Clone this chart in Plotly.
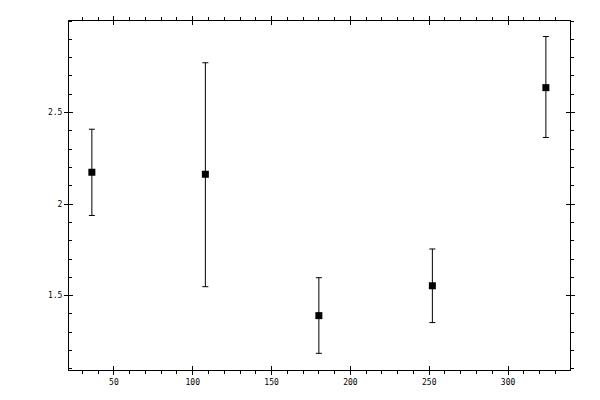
import plotly.graph_objects as go

# data
x_vals = [36, 108, 180, 252, 324]
y_vals = [2.174, 2.163, 1.391, 1.554, 2.636]
err_plus = [0.235, 0.609, 0.207, 0.201, 0.279]
err_minus = [0.236, 0.614, 0.206, 0.201, 0.272]

x_range = [21.5, 339.3]
y_range = [1.094, 3.0]

font = dict(family="DejaVu Sans Mono", size=8, color="black")

fig = go.Figure()
fig.add_trace(go.Scatter(
    x=x_vals, y=y_vals, mode="markers",
    marker=dict(symbol="square", size=7, color="black"),
    error_y=dict(type="data", symmetric=False, array=err_plus, arrayminus=err_minus,
                 color="black", thickness=1, width=3),
    showlegend=False, hoverinfo="skip",
))
# empty traces so the extra tick axes get drawn
fig.add_trace(go.Scatter(x=[], y=[], xaxis="x2", yaxis="y2", showlegend=False))
fig.add_trace(go.Scatter(x=[], y=[], xaxis="x", yaxis="y3", showlegend=False))

# page body adds 8px, margins compensate for it
fig.update_layout(
    width=600, height=400,
    margin=dict(l=61, r=38, t=8, b=38),
    paper_bgcolor="white", plot_bgcolor="white",
    font=font,
    xaxis=dict(range=x_range, showgrid=False, zeroline=False,
               showline=True, linecolor="black", linewidth=1, mirror="ticks",
               ticks="outside", ticklen=4, tickwidth=1, tickcolor="black",
               tickvals=[50, 100, 150, 200, 250, 300], tickfont=font,
               minor=dict(ticks="outside", ticklen=3, tickwidth=1, tickcolor="black",
                          dtick=10, tick0=0, showgrid=False)),
    xaxis2=dict(range=x_range, overlaying="x", anchor="y2", showgrid=False,
                zeroline=False, showline=False, mirror="ticks",
                ticks="inside", ticklen=4, tickwidth=1, tickcolor="black",
                tickvals=[50, 100, 150, 200, 250, 300], showticklabels=False),
    yaxis=dict(range=y_range, showgrid=False, zeroline=False,
               showline=True, linecolor="black", linewidth=1,
               ticks="outside", ticklen=4, tickwidth=1, tickcolor="black",
               tickvals=[1.5, 2, 2.5], ticktext=["1.5", "2", "2.5"], tickfont=font,
               minor=dict(ticks="inside", ticklen=3, tickwidth=1, tickcolor="black",
                          dtick=0.1, tick0=0, showgrid=False)),
    yaxis2=dict(range=y_range, overlaying="y", anchor="x2", side="left",
                showgrid=False, zeroline=False, showline=False, mirror="ticks",
                ticks="inside", ticklen=4, tickwidth=1, tickcolor="black",
                tickvals=[1.5, 2, 2.5], showticklabels=False),
    yaxis3=dict(range=y_range, overlaying="y", anchor="x", side="right",
                showgrid=False, zeroline=False,
                showline=True, linecolor="black", linewidth=1,
                ticks="outside", ticklen=4, tickwidth=1, tickcolor="black",
                tickvals=[1.5, 2, 2.5], showticklabels=False,
                minor=dict(ticks="outside", ticklen=3, tickwidth=1, tickcolor="black",
                           dtick=0.1, tick0=0, showgrid=False)),
)

fig.write_html("out.html")
